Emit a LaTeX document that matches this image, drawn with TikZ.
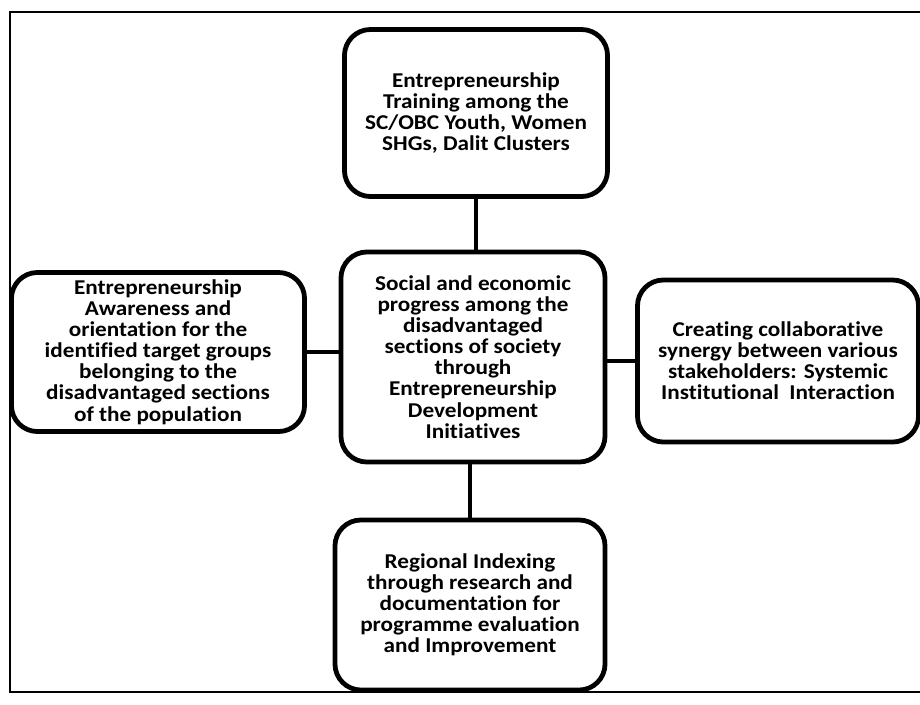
\documentclass[tikz,border=0pt]{standalone}
\usepackage{fontspec}
\setmainfont{Carlito}[FakeStretch=1.1, RawFeature=-liga]
\usepackage{tikz}
\tikzset{
	goalbox/.style = {align=center, inner sep=0pt, text centered, font=\fontsize{15}{15}\selectfont\bfseries},
	stagebox/.style = {goalbox, draw=black, line width=3.4pt, rounded corners=0.65cm, fill=white},
	hubbox/.style = {stagebox},
	link/.style = {draw=black, line width=2.4pt},
	frame/.style = {draw=black, line width=1pt}
}

\begin{document}
\begin{tikzpicture}[x=0.025cm, y=-0.025cm]
		\useasboundingbox (0,0) rectangle (920,704);
		\begin{scope}
			\clip (0,0) rectangle (920,704);
			\draw [frame] (10,12) rectangle (960,692);
		\end{scope}
		\node [hubbox, minimum width=6.6cm, minimum height=5.25cm] (hub) at (473,357)
			{Social and economic\\progress among the\\disadvantaged\\sections of society\\through\\Entrepreneurship\\Development\\Initiatives};
		\node [stagebox, minimum width=6.575cm, minimum height=4.175cm] (training) at (476,113)
			{Entrepreneurship\\Training among the\\SC/OBC Youth, Women\\SHGs, Dalit Clusters};
		\node [stagebox, minimum width=7.325cm, minimum height=3.975cm] (awareness) at (158,352)
			{Entrepreneurship\\Awareness and\\orientation for the\\identified target groups\\belonging to the\\disadvantaged sections\\of the population};
		\node [stagebox, minimum width=7.025cm, minimum height=4.05cm] (synergy) at (778,361)
			{Creating collaborative\\synergy between various\\stakeholders: Systemic\\Institutional\ \ Interaction};
		\node [stagebox, minimum width=6.75cm, minimum height=4.25cm] (indexing) at (470,605)
			{Regional Indexing\\through research and\\documentation for\\programme evaluation\\and Improvement};
		\draw [link] (hub.north -| training.south) -- (training.south);
		\draw [link] (awareness.east) -- (awareness.east -| hub.west);
		\draw [link] (hub.east |- synergy.west) -- (synergy.west);
		\draw [link] (hub.south -| indexing.north) -- (indexing.north);
\end{tikzpicture}
\end{document}
